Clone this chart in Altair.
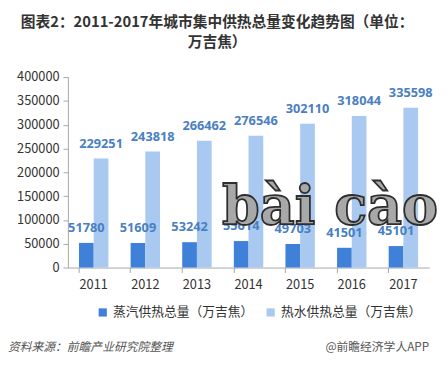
import altair as alt
import pandas as pd

years = ["2011", "2012", "2013", "2014", "2015", "2016", "2017"]
steam = [51780, 51609, 53242, 55614, 49703, 41501, 45101]
water = [229251, 243818, 266462, 276546, 302110, 318044, 335598]
s1 = "蒸汽供热总量（万吉焦）"
s2 = "热水供热总量（万吉焦）"

rows = []
for y, a, b in zip(years, steam, water):
    rows.append({"year": y, "series": s1, "order": 0, "value": a})
    rows.append({"year": y, "series": s2, "order": 1, "value": b})
df = pd.DataFrame(rows)

FONT = "Noto Sans CJK SC"
W, H = 368, 194

x = alt.X("year:N", title=None, sort=years,
          scale=alt.Scale(paddingInner=0.43, paddingOuter=0.215),
          axis=alt.Axis(labelAngle=0, bandPosition=0, labelFontSize=13, labelColor="#333333",
                        labelFont=FONT, domainColor="#a6a6a6", tickColor="#a6a6a6",
                        tickSize=5, labelPadding=6))
xo = alt.XOffset("series:N", sort=[s1, s2])
yenc = alt.Y("value:Q", title=None,
             scale=alt.Scale(domain=[0, 400000]),
             axis=alt.Axis(values=list(range(0, 400001, 50000)), grid=False, labelFontSize=13,
                           labelColor="#333333", labelFont=FONT, domainColor="#a6a6a6",
                           tickColor="#a6a6a6", tickSize=5, labelPadding=4, format="d"))
color = alt.Color("series:N", sort=[s1, s2],
                  scale=alt.Scale(domain=[s1, s2], range=["#3f80d9", "#a9c9f1"]),
                  legend=alt.Legend(title=None, orient="none", direction="horizontal",
                                    legendX=29, legendY=233, symbolType="square",
                                    symbolSize=70, labelFontSize=13, labelFont=FONT,
                                    labelColor="#333333", columnPadding=10, symbolStrokeWidth=0))

base = alt.Chart(df)
bars = base.mark_bar().encode(x=x, xOffset=xo, y=yenc, color=color)
labels = base.mark_text(dy=-15, baseline="middle", fontWeight="bold", fontSize=13,
                        font="Noto Sans", color="#4a7fc1").encode(
    x=x, xOffset=xo, y=yenc, text=alt.Text("value:Q", format="d"))

foot = pd.DataFrame({"l": ["资料来源：前瞻产业研究院整理"], "r": ["@前瞻经济学人APP"], "w": ["bài cào"]})
fl = alt.Chart(foot).mark_text(align="left", baseline="middle", fontSize=12, font=FONT,
                               fontStyle="italic", color="#555555").encode(
    x=alt.value(-61), y=alt.value(275), text="l:N")
fr = alt.Chart(foot).mark_text(align="right", baseline="middle", fontSize=12, font=FONT,
                               color="#555555").encode(
    x=alt.value(W), y=alt.value(275), text="r:N")
wm = alt.Chart(foot).mark_text(align="center", baseline="alphabetic", fontSize=55,
                               font="DejaVu Serif", fontWeight="bold", color="#a8a8a8",
                               stroke="#2e2e2e", strokeWidth=1.8).encode(
    x=alt.value(267), y=alt.value(150), text="w:N")

chart = alt.layer(bars, labels, fl, fr, wm).properties(
    width=W, height=H,
    autosize=alt.AutoSizeParams(type="none"),
    padding={"left": 61, "top": 67, "right": 11, "bottom": 101},
    title=alt.TitleParams(["图表2：2011-2017年城市集中供热总量变化趋势图（单位：", "万吉焦）"],
                          font=FONT, fontSize=15, fontWeight="bold", color="#333333",
                          anchor="middle", dx=-32, offset=22, lineHeight=20),
).configure_view(stroke=None)

chart.save("out.html", embed_options={"renderer": "svg", "actions": False})
